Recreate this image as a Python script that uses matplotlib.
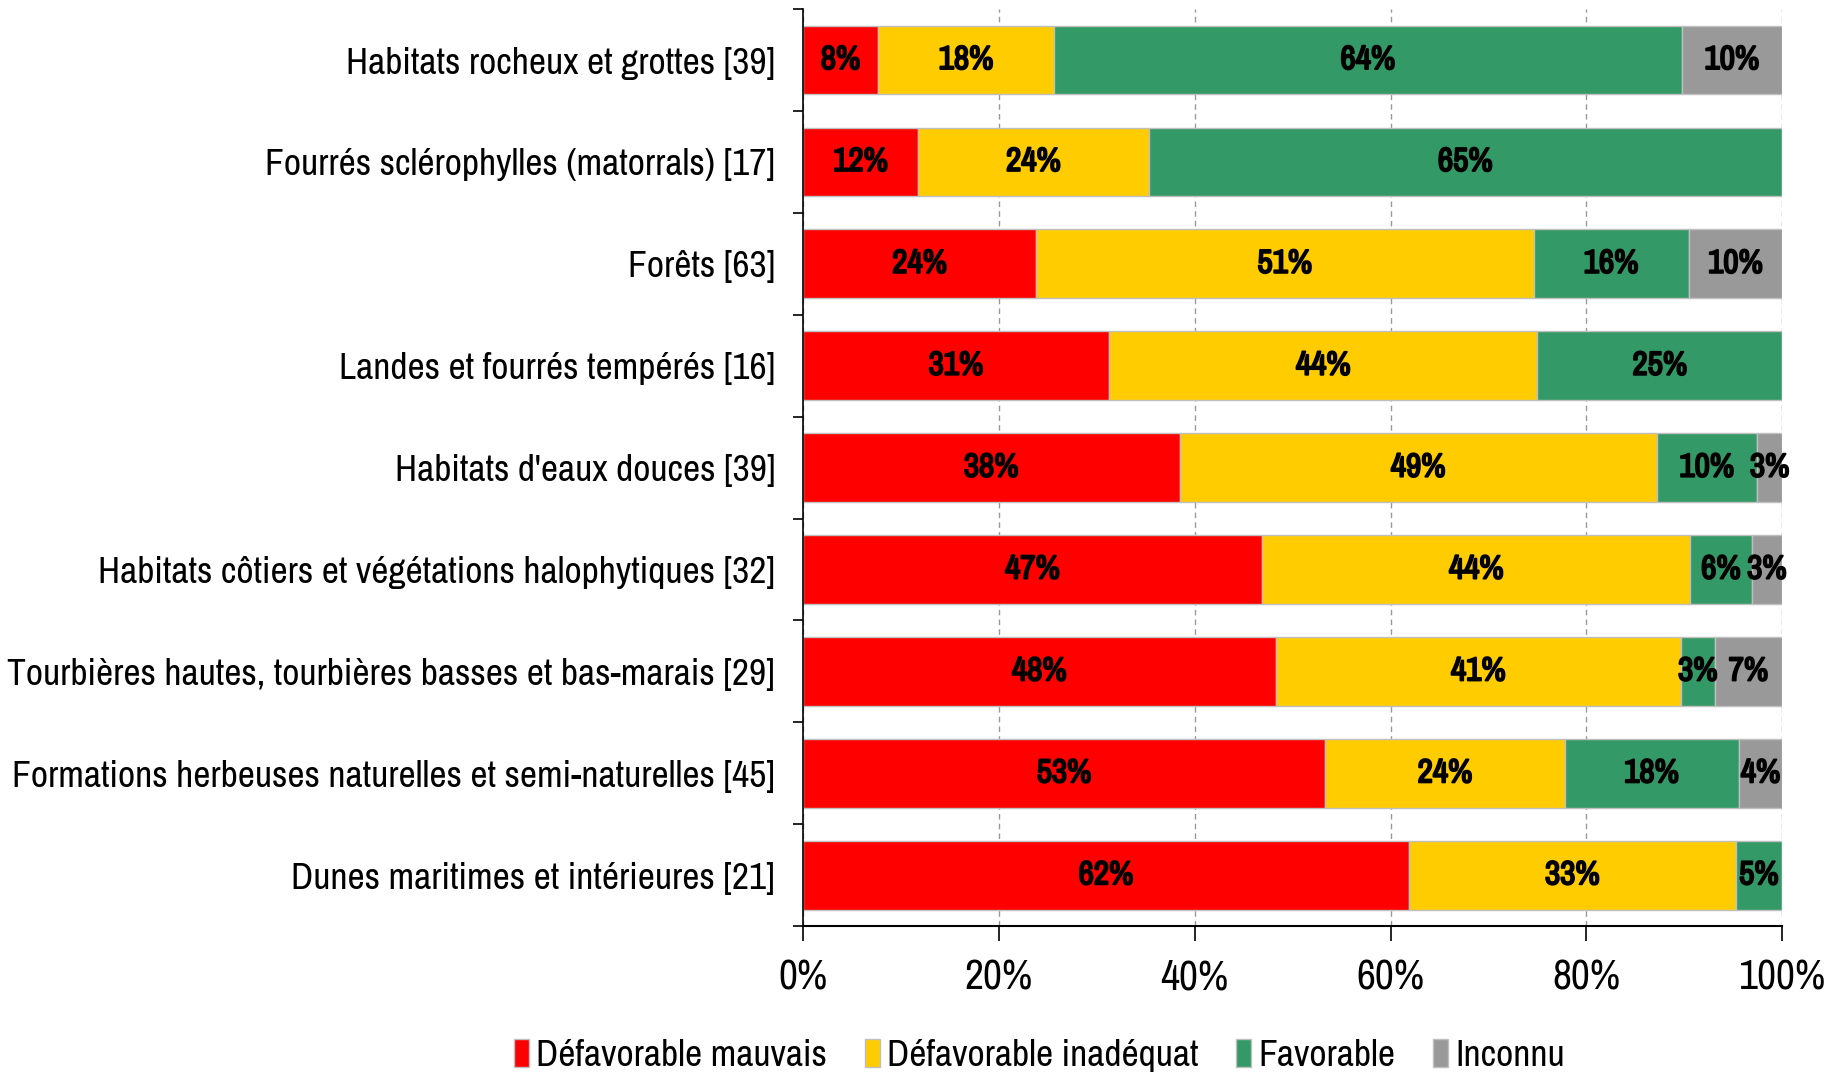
import numpy as np
import matplotlib

matplotlib.use("Agg")
import matplotlib.pyplot as plt
import matplotlib.patheffects as pe
from matplotlib.patches import Patch

plt.rcParams["font.family"] = ["Archivo Narrow", "DejaVu Sans"]

# habitat groups, top to bottom, with number of assessments
habitats = [
    "Habitats rocheux et grottes [39]",
    "Fourrés sclérophylles (matorrals) [17]",
    "Forêts [63]",
    "Landes et fourrés tempérés [16]",
    "Habitats d'eaux douces [39]",
    "Habitats côtiers et végétations halophytiques [32]",
    "Tourbières hautes, tourbières basses et bas-marais [29]",
    "Formations herbeuses naturelles et semi-naturelles [45]",
    "Dunes maritimes et intérieures [21]",
]
totals = [39, 17, 63, 16, 39, 32, 29, 45, 21]

# number of assessments in each state
mauvais = [3, 2, 15, 5, 15, 15, 14, 24, 13]
inadequat = [7, 4, 32, 7, 19, 14, 12, 11, 7]
favorable = [25, 11, 10, 4, 4, 2, 1, 8, 1]
inconnu = [4, 0, 6, 0, 1, 1, 2, 2, 0]

states = ["Défavorable mauvais", "Défavorable inadéquat", "Favorable", "Inconnu"]
colors = ["#FF0000", "#FFCC00", "#339966", "#999999"]
xticks = [0, 20, 40, 60, 80, 100]

counts = np.array([mauvais, inadequat, favorable, inconnu], dtype=float)
pct = counts / np.array(totals, dtype=float) * 100

fig = plt.figure(figsize=(18.27, 10.77), dpi=100)
ax = fig.add_axes([0.4395, 0.140, 0.5360, 0.8516])

# narrow font has no bold cut, so thicken the labels with a stroke
fake_bold = [pe.withStroke(linewidth=1.4, foreground="black")]

y = np.arange(len(habitats))
left = np.zeros(len(habitats))
for k in range(len(states)):
    ax.barh(
        y,
        pct[k],
        left=left,
        height=0.675,
        color=colors[k],
        edgecolor="#BFBFBF",
        linewidth=1.0,
        zorder=2,
    )
    for i in range(len(habitats)):
        if pct[k][i] > 0:
            ax.text(
                left[i] + pct[k][i] / 2,
                y[i],
                f"{pct[k][i]:.0f}%",
                ha="center",
                va="center",
                fontsize=24,
                path_effects=fake_bold,
                zorder=3,
            )
    left = left + pct[k]

ax.set_ylim(len(habitats) - 0.5, -0.5)
ax.set_xlim(0, 100)

ax.set_yticks(y)
ax.set_yticklabels(habitats, fontsize=27)
ax.tick_params(axis="y", length=0, pad=20)
ax.set_yticks(np.arange(len(habitats) + 1) - 0.5, minor=True)
ax.tick_params(axis="y", which="minor", length=7, width=1.2, direction="out")

ax.set_xticks(xticks)
ax.set_xticklabels([f"{v}%" for v in xticks], fontsize=30)
ax.tick_params(axis="x", length=11, width=1.2, direction="out", pad=12)

ax.grid(axis="x", color="#999999", linestyle=(0, (4, 3)), linewidth=1.0, zorder=0)

ax.spines["top"].set_visible(False)
ax.spines["right"].set_visible(False)
ax.spines["left"].set_linewidth(1.2)
ax.spines["bottom"].set_linewidth(1.5)

handles = [Patch(facecolor=c, edgecolor="#BFBFBF") for c in colors]
fig.legend(
    handles,
    states,
    loc="center",
    bbox_to_anchor=(0.569, 0.020),
    ncol=4,
    frameon=False,
    fontsize=27,
    handlelength=0.4,
    handleheight=0.8,
    handletextpad=0.2,
    columnspacing=1.0,
)

fig.savefig("out.png", dpi=100)
